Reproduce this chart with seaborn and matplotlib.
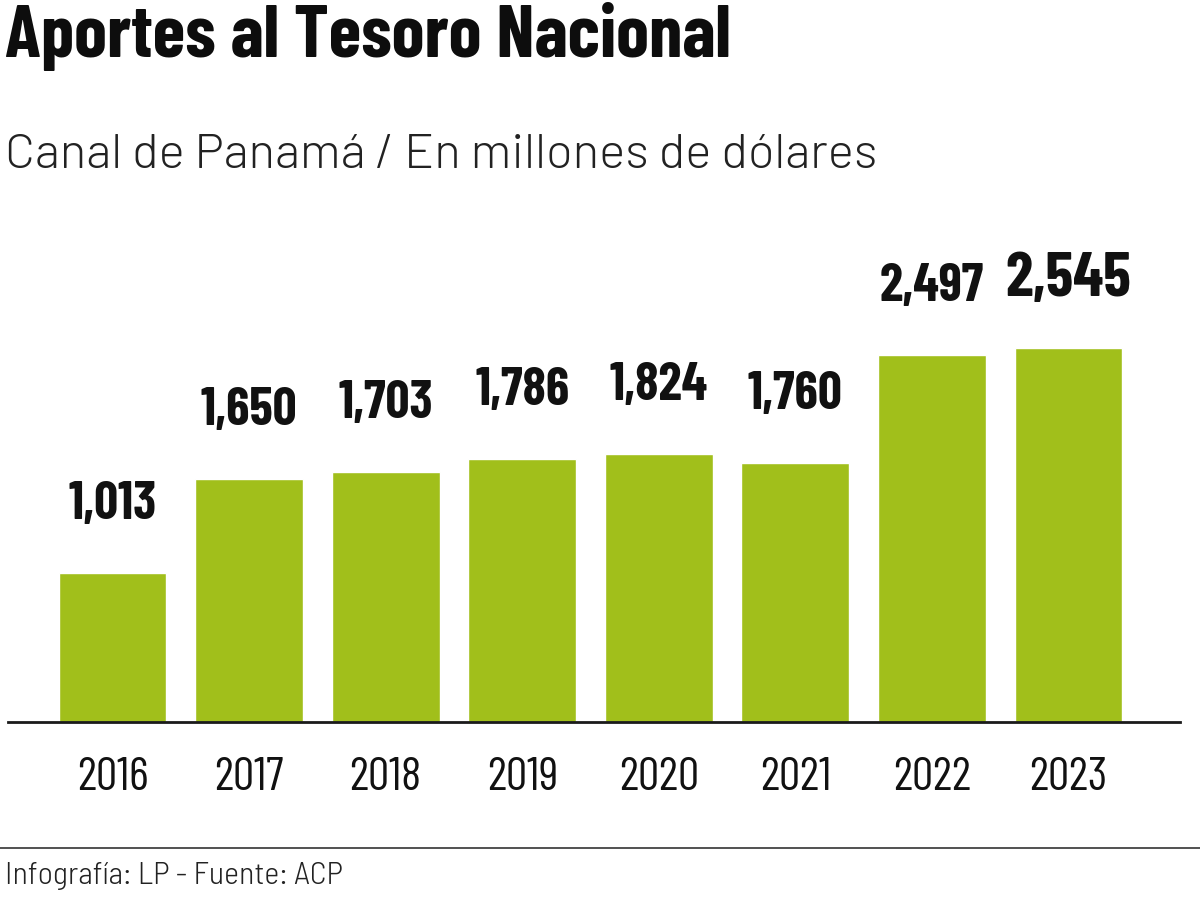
import matplotlib
matplotlib.use("Agg")
import matplotlib.pyplot as plt
import seaborn as sns
import pandas as pd

years = ["2016", "2017", "2018", "2019", "2020", "2021", "2022", "2023"]
values = [1013, 1650, 1703, 1786, 1824, 1760, 2497, 2545]
value_labels = ["1,013", "1,650", "1,703", "1,786", "1,824", "1,760", "2,497", "2,545"]

title = "Aportes al Tesoro Nacional"
subtitle = "Canal de Panamá / En millones de dólares"
footer = "Infografía: LP - Fuente: ACP"

sns.set_theme(style="white")
COND = ["Barlow Condensed", "Roboto Condensed", "DejaVu Sans"]
SEMI = ["Barlow Semi Condensed", "Roboto Condensed", "DejaVu Sans"]
REG = ["Barlow", "Roboto", "DejaVu Sans"]
plt.rcParams["font.family"] = COND

BAR = "#a1bf1b"
df = pd.DataFrame({"year": years, "value": values})

fig = plt.figure(figsize=(12, 9), dpi=100)
ax = fig.add_axes([8/1200, 1 - 722/900, (1180 - 8)/1200, (722 - 200)/900])
sns.barplot(data=df, x="year", y="value", order=years, color=BAR, width=0.79,
            saturation=1, ax=ax)
ax.set_xlim(-0.765, 7.816)
ax.set_ylim(0, 522/0.147)

for s in ["top", "right", "left"]:
    ax.spines[s].set_visible(False)
ax.spines["bottom"].set_color("#1a1a1a")
ax.spines["bottom"].set_linewidth(2)
ax.set_yticks([])
ax.set_xlabel("")
ax.set_ylabel("")
ax.tick_params(axis="x", length=0, pad=25, labelsize=34, labelcolor="#111111")
for t in ax.get_xticklabels():
    t.set_fontfamily(COND)
    t.set_fontweight(400)

for i, (v, lab) in enumerate(zip(values, value_labels)):
    big = i == len(values) - 1
    ax.annotate(lab, (i, v), xytext=(0, 49), textcoords="offset points",
                ha="center", va="center", fontsize=45 if big else 38,
                fontweight="bold", color="#111111", family=COND)

fig.text(5/1200, 1 - 57/900, title, fontsize=53.5, fontweight="bold",
         ha="left", va="baseline", color="#0d0d0d", family=COND)
fig.text(5/1200, 1 - 168/900, subtitle, fontsize=35.5, fontweight=300,
         ha="left", va="baseline", color="#222222", family=REG)
fig.add_artist(plt.Line2D([0, 1], [1 - 848/900, 1 - 848/900], color="#333333",
                          linewidth=1.2, transform=fig.transFigure))
fig.text(5/1200, 1 - 884/900, footer, fontsize=23, fontweight=300,
         ha="left", va="baseline", color="#222222", family=SEMI)

fig.savefig("out.png", dpi=100, facecolor="white")
